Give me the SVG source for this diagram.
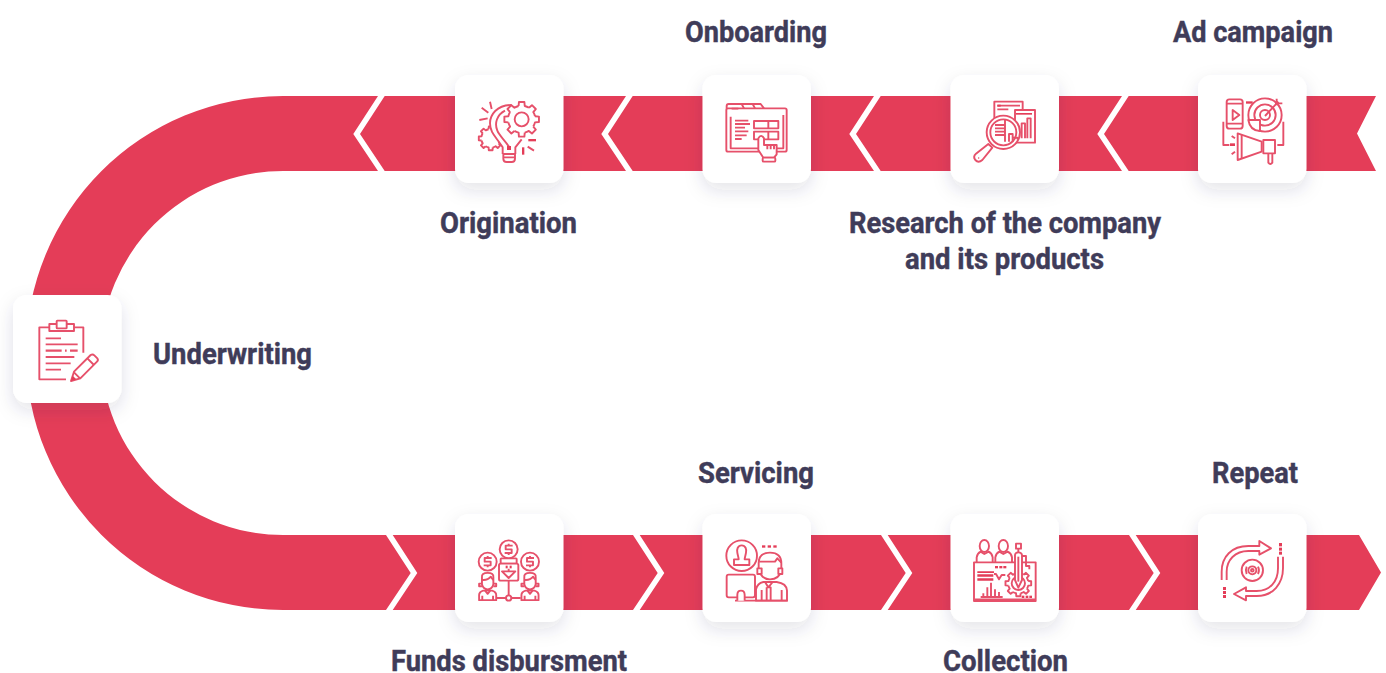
<svg xmlns="http://www.w3.org/2000/svg" width="1386" height="673" viewBox="0 0 1386 673">
<style>
.band{fill:#e43d58}
.gap{fill:#fff}
.card{fill:#fff;filter:url(#sh)}
.lbl{font-family:Roboto,"Liberation Sans",sans-serif;font-weight:700;font-size:30px;fill:#3f3c59;stroke:#3f3c59;stroke-width:.45px}
.ic{fill:none;stroke:#e6506a;stroke-width:1.9;stroke-linejoin:round;stroke-linecap:butt}
path,circle,rect,ellipse{vector-effect:non-scaling-stroke}
.w{fill:#fff}
.f{fill:#e43d58;stroke:none}
</style>
<defs>
<filter id="sh" x="-30%" y="-30%" width="160%" height="170%"><feDropShadow dx="0" dy="7" stdDeviation="9" flood-color="#2a2c55" flood-opacity=".13"/></filter>
<rect id="c" width="108.500" height="108" rx="14"/>
<polygon id="chl" points="0,0 6.700,0 -18,38 6.700,75 0,75 -24.700,38"/>
<polygon id="chr" points="0,0 6.700,0 31.300,38 6.700,75 0,75 24.700,38"/>
<g id="t"><path d="M38 -8.800L49.400 -7.800V7.800L38 8.800A39 39 0 0 1 33.100 20.700"/></g>
<g id="gear"><circle r="39" fill="#fff" stroke="none"/><use href="#t"/><use href="#t" transform="rotate(45)"/><use href="#t" transform="rotate(90)"/><use href="#t" transform="rotate(135)"/><use href="#t" transform="rotate(180)"/><use href="#t" transform="rotate(225)"/><use href="#t" transform="rotate(270)"/><use href="#t" transform="rotate(315)"/></g>
<g id="coin"><circle r="27" class="w"/><path d="M12 -11H-9V0H9V11H-12M0 -17V-11M0 11V17"/></g>
<g id="agent"><path d="M-27 52V36Q-27 26 -14 22H14Q27 26 27 36V52ZM-17 52V38M17 52V38" class="w"/><path d="M-18 -20Q-20 -34 0 -34Q20 -34 18 -20V2Q14 18 0 18Q-14 18 -18 2Z" class="w"/><path d="M-18 -12Q0 -10 10 -22Q14 -14 18 -12M-18 0H-27V8H-18M18 0H27V8H18M-8 22L0 32L8 22"/></g>
</defs>

<g id="connectors">
<path class="band" d="M1376 96H283A257 257 0 0 0 283 610H1359L1381 572.500L1359 535H283A182 182 0 0 1 283 171H1376L1357 133.500Z"/>
<g class="gap">
<use href="#chl" x="378" y="96"/><use href="#chl" x="626" y="96"/><use href="#chl" x="874" y="96"/><use href="#chl" x="1122" y="96"/>
<use href="#chr" x="386" y="535"/><use href="#chr" x="633" y="535"/><use href="#chr" x="881" y="535"/><use href="#chr" x="1129" y="535"/>
</g>
</g>

<g id="node-adcampaign">
<use href="#c" x="1198" y="75" class="card"/>
<g class="ic" transform="translate(940,60) scale(.33333)">
<rect x="860" y="118" width="48" height="88" rx="8"/><path d="M860 131H908M860 191H908M878 150V180L898 165Z"/>
<rect class="f" x="918" y="124" width="20" height="7"/>
<circle cx="975" cy="165" r="50"/><circle cx="975" cy="165" r="32"/><circle cx="975" cy="165" r="15"/>
<path d="M975 168L1015 125M1010 116V136M1005 130H1027"/>
<path class="w" d="M925 180H960V213Q930 212 925 180Z"/>
<path d="M850 185V255H868M1030 185V255H1012"/>
<path class="w" d="M970 240H1005V280H970Z"/>
<path class="w" d="M893 220L965 245V275L893 300Z"/><path d="M905 225V296M985 280V308Q991 316 997 308V280"/>
<path d="M875 228L885 235M875 283L885 275"/><rect class="f" x="870" y="250" width="15" height="8"/>
</g>
</g>

<g id="node-research">
<use href="#c" x="950.500" y="75" class="card"/>
<g class="ic" transform="translate(940,60) scale(.33333)">
<path d="M163 210V125H248V150"/><path d="M172 148H205M172 137H240"/><rect class="f" x="172" y="134" width="10" height="6"/>
<rect x="225" y="150" width="60" height="98"/><rect class="f" x="228" y="159" width="48" height="5"/>
<path d="M245 235V190H255V235M262 235V175H272V235"/>
<circle class="w" cx="190" cy="217" r="50"/><circle cx="190" cy="217" r="39"/>
<path d="M195 178V245M165 195H195M165 205H195M165 215H195M165 225H195M207 245V222H218V245M218 233H232V238"/>
<path class="w" d="M145 252L157 263L127 300Q115 310 106 300Q98 290 108 281Z"/><circle class="f" cx="116" cy="294" r="2"/>
</g>
</g>

<g id="node-onboarding">
<use href="#c" x="702.500" y="75" class="card"/>
<g class="ic" transform="translate(440,60) scale(.33333)">
<path d="M860 146V138Q860 132 866 132H962L972 145M905 132L912 145M938 132L945 145"/>
<rect x="859" y="145" width="181" height="130" rx="5"/>
<path d="M875 146H895M1030 165V265H872V170"/>
<path d="M885 182H925M885 192H930M885 203H915M885 214H925M885 226H920M885 237H905"/>
<rect x="942" y="183" width="73" height="22"/><path d="M985 183V205"/><rect x="942" y="215" width="73" height="23"/><path d="M985 215V238"/>
<path class="w" d="M955 270V235Q963 220 972 235V255H1010V283L1002 293H970Z"/>
<path d="M982 255V268M992 255V268M1002 255V268"/>
<rect class="w" x="968" y="293" width="38" height="12" rx="3"/>
</g>
</g>

<g id="node-origination">
<use href="#c" x="455" y="75" class="card"/>
<g class="ic" transform="translate(440,60) scale(.33333)">
<use href="#gear" transform="translate(152,235) scale(.72)"/>
<path class="w" d="M215 135C170 135 150 165 150 190C150 220 170 232 188 262V282H226V262L245 235L250 135Z" stroke="none"/>
<path d="M215 135C170 135 150 165 150 190C150 220 170 232 188 262V282M226 282V262L245 238"/>
<path d="M195 152C170 165 163 190 172 212C178 228 195 240 208 262"/>
<use href="#gear" transform="translate(245,178) scale(1.05)"/>
<circle cx="245" cy="178" r="21"/>
<path d="M190 282H225V296Q225 306 215 306H200Q190 306 190 296ZM190 292H225"/>
<path d="M150 125L155 147M125 143L145 158M118 180L143 175M263 260L282 272"/>
<rect class="f" x="265" y="237" width="23" height="7"/><rect class="f" x="246" y="262" width="7" height="22"/><rect class="f" x="201" y="258" width="12" height="12"/>
</g>
</g>

<g id="node-underwriting">
<use href="#c" x="13" y="295" class="card"/>
<g class="ic" transform="translate(0,280) scale(.33333)">
<path d="M148 142H118V298H198M222 142H250V218"/>
<rect class="w" x="148" y="132" width="74" height="21"/><rect class="w" x="170" y="122" width="30" height="23" rx="2"/>
<path d="M137 175H183M137 193H233M137 231H223M137 250H212M137 269H183"/>
<path d="M137 212H185M195 212H200M210 212H233" style="stroke-width:2.300"/>
<path class="w" d="M213 303L222 275L272 225Q278 221 283 226L292 235Q296 240 291 245L241 295Z"/>
<path d="M262 235L282 255M222 277L240 295"/><path class="f" d="M213 303L218 287L229 298Z"/>
</g>
</g>

<g id="node-funds">
<use href="#c" x="455" y="514" class="card"/>
<g class="ic" transform="translate(380,500) scale(.33333)">
<use href="#coin" transform="translate(386,148)"/><use href="#coin" transform="translate(323,185)"/><use href="#coin" transform="translate(450,185)"/>
<rect class="w" x="362" y="175" width="48" height="16" rx="2"/><rect class="w" x="357" y="191" width="58" height="51" rx="5"/>
<rect class="f" x="377" y="197" width="6" height="8"/><rect class="f" x="389" y="197" width="6" height="8"/>
<path d="M366 214H406L386 234ZM386 206V214"/>
<path d="M386 242V286M350 294H378M394 294H422"/><circle cx="386" cy="294" r="8"/>
<use href="#agent" transform="translate(323,251) scale(.95)"/><use href="#agent" transform="translate(450,251) scale(.95)"/>
</g>
</g>

<g id="node-servicing">
<use href="#c" x="702.500" y="514" class="card"/>
<g class="ic" transform="translate(380,500) scale(.33333)">
<circle cx="1085" cy="167" r="46"/>
<path d="M1085 136C1073 136 1070 148 1072 158C1073 166 1076 172 1076 178H1062V195H1108V178H1094C1094 172 1097 166 1098 158C1100 148 1097 136 1085 136Z"/>
<rect class="f" x="1146" y="136" width="10" height="7"/><rect class="f" x="1163" y="136" width="10" height="7"/><rect class="f" x="1180" y="136" width="10" height="7"/>
<path class="w" d="M1128 302V268Q1132 250 1150 246H1190Q1220 250 1221 272V302Z"/>
<path d="M1065 302H1223M1145 302V270M1205 302V270M1155 246L1165 262L1178 246M1160 262H1172V302M1160 262V302"/>
<path class="w" d="M1136 200V190Q1136 158 1170 158Q1204 158 1204 190V210Q1198 238 1170 238Q1145 238 1136 210Z"/>
<path d="M1138 185H1185L1192 175L1204 188"/><path class="w" d="M1132 205H1145V222H1132ZM1195 205H1207V222H1195Z"/>
<rect class="w" x="1040" y="224" width="85" height="68" rx="6"/>
<path class="w" d="M1072 302V285Q1072 272 1083 272Q1094 272 1094 285V302"/>
</g>
</g>

<g id="node-collection">
<use href="#c" x="950.500" y="514" class="card"/>
<g class="ic" transform="translate(940,500) scale(.33333)">
<ellipse cx="133" cy="138" rx="14" ry="18"/><path d="M110 186V172Q112 160 122 155L133 162L146 155Q156 160 158 172V186"/>
<ellipse cx="190" cy="138" rx="14" ry="18"/><path d="M166 186V172Q168 160 178 155L190 162L203 155Q214 160 216 172V186"/>
<rect x="102" y="187" width="185" height="116"/><path d="M105 298H285"/>
<rect class="f" x="165" y="198" width="9" height="7"/><rect class="f" x="178" y="198" width="9" height="7"/><rect class="f" x="190" y="198" width="9" height="7"/>
<path class="f" d="M112 214H162V219H112ZM112 223H160V230H112ZM112 235H160V242H112Z"/>
<path d="M162 222H168L177 238L185 225H196"/>
<path d="M122 291H188M130 291V280M142 291V262M153 291V248M165 291V268M177 291V276"/>
<rect class="f" x="245" y="287" width="8" height="7"/><rect class="f" x="257" y="287" width="8" height="7"/><rect class="f" x="268" y="287" width="8" height="7"/>
<path d="M245 168H258V198H268V208"/>
<use href="#gear" transform="translate(235,250) scale(.78)"/>
<circle cx="235" cy="250" r="20"/>
<rect x="228" y="131" width="15" height="15"/><path d="M235 146V157"/>
<path class="w" d="M225 165Q226 157 235 157Q245 157 246 165V240L235 263L225 240Z"/>
<path d="M235 170V245"/>
</g>
</g>

<g id="node-repeat">
<use href="#c" x="1198" y="514" class="card"/>
<g class="ic" transform="translate(940,500) scale(.33333)">
<path d="M845 240V215C845 170 875 138 925 138H958V123L993 145L958 164V153H925C885 153 860 180 860 215V240"/>
<path d="M1029 170V205C1029 250 1000 288 950 288H918V301L882 282L918 262V273H950C990 273 1014 245 1014 205V170"/>
<circle cx="937" cy="211" r="32"/><circle cx="937" cy="211" r="12"/><circle cx="937" cy="211" r="4"/>
<path d="M920 200Q915 211 920 222M954 200Q960 211 954 222"/>
<rect class="f" x="1017" y="129" width="9" height="10"/><rect class="f" x="1017" y="143" width="9" height="9"/><rect class="f" x="1017" y="155" width="9" height="9"/>
<rect class="f" x="849" y="261" width="9" height="9"/><rect class="f" x="849" y="273" width="9" height="9"/><rect class="f" x="849" y="285" width="9" height="9"/>
</g>
</g>

<g id="labels">
<text class="lbl" x="685" y="42" textLength="142" lengthAdjust="spacingAndGlyphs">Onboarding</text>
<text class="lbl" x="1173" y="42" textLength="160" lengthAdjust="spacingAndGlyphs">Ad campaign</text>
<text class="lbl" x="440" y="233" textLength="137" lengthAdjust="spacingAndGlyphs">Origination</text>
<text class="lbl" x="849" y="233" textLength="312" lengthAdjust="spacingAndGlyphs">Research of the company</text>
<text class="lbl" x="905" y="269" textLength="199" lengthAdjust="spacingAndGlyphs">and its products</text>
<text class="lbl" x="153" y="364" textLength="159" lengthAdjust="spacingAndGlyphs">Underwriting</text>
<text class="lbl" x="698" y="483" textLength="116" lengthAdjust="spacingAndGlyphs">Servicing</text>
<text class="lbl" x="1212" y="483" textLength="86" lengthAdjust="spacingAndGlyphs">Repeat</text>
<text class="lbl" x="391" y="671" textLength="236" lengthAdjust="spacingAndGlyphs">Funds disbursment</text>
<text class="lbl" x="943" y="671" textLength="125" lengthAdjust="spacingAndGlyphs">Collection</text>
</g>
</svg>
